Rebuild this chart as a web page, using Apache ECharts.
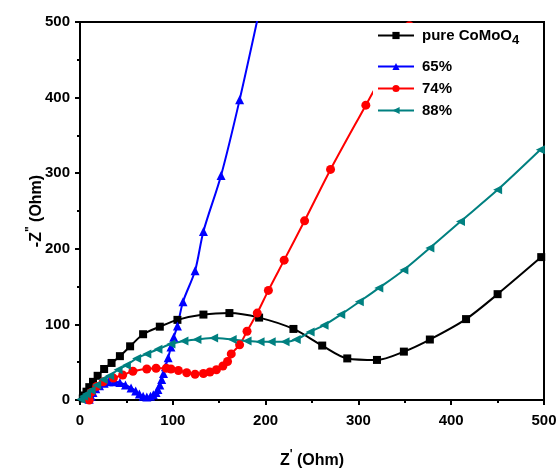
<!DOCTYPE html>
<html>
<head>
<meta charset="utf-8">
<script src="https://cdn.jsdelivr.net/npm/echarts@6/dist/echarts.min.js"></script>
<style>
  html, body { margin: 0; padding: 0; background: #fff; }
  #chart { width: 559px; height: 469px; }
</style>
</head>
<body>
<div id="chart"></div>
<script>
// Nyquist plots: Z' vs -Z'' (Ohm) for the four electrodes
const seriesNames = ['pure CoMoO4', '65%', '74%', '88%'];

const pureCoMoO4 = [
  [3, 2], [5, 6], [7, 11], [10, 17], [14, 24], [19, 32], [26, 41], [34, 49],
  [43, 58], [54, 71], [68, 87], [86, 97], [105, 106], [133, 113], [161, 115],
  [193, 109], [230, 94], [261, 72], [288, 55], [320, 53], [349, 64], [377, 80],
  [416, 107], [450, 140], [497, 189]
];

const pct65 = [
  [10, 1], [12, 5], [14, 10], [17, 15], [21, 19], [26, 22], [31, 24], [37, 24],
  [43, 23], [49, 20], [55, 16], [60, 12], [64, 8], [68, 5], [72, 4], [76, 5],
  [79, 7], [82, 10], [84, 14], [86, 20], [88, 27], [90, 35], [92, 44], [95, 56],
  [98, 70], [101, 83], [105, 98], [111, 130], [124, 171], [133, 223], [152, 297],
  [172, 397], [195, 525]
];

const pct74 = [
  [10, 0], [12, 10], [18, 18], [25, 24], [36, 29], [46, 33], [57, 38], [72, 41],
  [82, 42], [93, 42], [98, 41], [106, 39], [115, 36], [124, 34], [133, 35],
  [140, 37], [147, 40], [154, 45], [159, 51], [163, 61], [172, 73], [180, 91],
  [191, 115], [203, 145], [220, 185], [242, 237], [270, 305], [308, 390], [355, 495]
];

const pct88 = [
  [1, 1], [4, 5], [7, 8], [12, 13], [18, 20], [25, 27], [32, 32], [41, 40],
  [50, 46], [61, 55], [72, 61], [84, 67], [98, 74], [112, 78], [126, 80],
  [144, 82], [164, 80], [180, 78], [194, 77], [206, 77], [221, 77], [233, 80],
  [248, 90], [263, 99], [281, 113], [301, 130], [322, 148], [349, 172],
  [377, 201], [410, 236], [450, 278], [496, 331]
];

const axisMin = 0;
const axisMax = 500;
const axisStep = 100;

const FONT = '"Liberation Sans", Arial, sans-serif';

const chart = echarts.init(document.getElementById('chart'), null, { renderer: 'canvas' });

function lineSeries(name, data, color, symbol, size, rotate) {
  return {
    name: name,
    type: 'line',
    data: data,
    smooth: 0.3,
    clip: true,
    symbol: symbol,
    symbolSize: size,
    symbolRotate: rotate || 0,
    showAllSymbol: true,
    lineStyle: { color: color, width: 2 },
    itemStyle: { color: color, borderWidth: 0 },
    emphasis: { disabled: true },
    z: 2
  };
}

const legendText = {
  fontFamily: FONT,
  fontWeight: 'bold',
  fontSize: 15,
  color: '#000',
  padding: [0, 0, 0, 3],
  rich: {
    a: { fontFamily: FONT, fontWeight: 'bold', fontSize: 15, color: '#000' },
    s: { fontFamily: FONT, fontWeight: 'bold', fontSize: 13, color: '#000', padding: [10, 0, 0, 0] }
  }
};

chart.setOption({
  animation: false,
  backgroundColor: '#fff',
  grid: {
    left: 80, right: 15, top: 22, bottom: 69,
    outerBoundsMode: 'none',
    containLabel: false,
    show: true, borderColor: '#000', borderWidth: 2, backgroundColor: 'transparent'
  },
  legend: [
    {
      data: [seriesNames[0]],
      left: 373, top: 23,
      orient: 'vertical',
      itemWidth: 36, itemHeight: 9,
      backgroundColor: '#fff',
      padding: [5, 20, 16, 4],
      textStyle: legendText,
      formatter: function () { return '{a|pure CoMoO}{s|4}'; }
    },
    {
      data: seriesNames.slice(1),
      left: 373, top: 56,
      orient: 'vertical',
      itemWidth: 36, itemHeight: 9,
      itemGap: 7,
      backgroundColor: '#fff',
      padding: [3, 20, 6, 4],
      textStyle: legendText
    }
  ],
  xAxis: {
    type: 'value',
    min: axisMin, max: axisMax, interval: axisStep,
    name: '{b|Z}{p|\'}{n| (Ohm)}',
    nameLocation: 'middle',
    nameGap: 49,
    nameMoveOverlap: false,
    nameTextStyle: {
      rich: {
        b: { fontFamily: FONT, fontWeight: 'bold', fontSize: 16, color: '#000' },
        p: { fontFamily: FONT, fontWeight: 'bold', fontSize: 12, color: '#000', padding: [0, 0, 12, 0] },
        n: { fontFamily: FONT, fontWeight: 'bold', fontSize: 16, color: '#000' }
      }
    },
    axisLine: { show: true, onZero: false, lineStyle: { color: '#000', width: 2 } },
    axisTick: { show: true, inside: false, length: 5, lineStyle: { color: '#000', width: 2 } },
    minorTick: { show: true, splitNumber: 2, length: 3, lineStyle: { color: '#000', width: 2 } },
    splitLine: { show: false },
    axisLabel: { color: '#000', fontFamily: FONT, fontWeight: 'bold', fontSize: 15, margin: 13 }
  },
  yAxis: {
    type: 'value',
    min: axisMin, max: axisMax, interval: axisStep,
    name: '{n|-Z}{p|"}{n| (Ohm)}',
    nameLocation: 'middle',
    nameRotate: 90,
    nameGap: 31,
    nameMoveOverlap: false,
    nameTextStyle: {
      rich: {
        p: { fontFamily: FONT, fontWeight: 'bold', fontSize: 12, color: '#000', padding: [0, 0, 12, 0] },
        n: { fontFamily: FONT, fontWeight: 'bold', fontSize: 16, color: '#000' }
      }
    },
    axisLine: { show: true, onZero: false, lineStyle: { color: '#000', width: 2 } },
    axisTick: { show: true, inside: false, length: 5, lineStyle: { color: '#000', width: 2 } },
    minorTick: { show: true, splitNumber: 2, length: 3, lineStyle: { color: '#000', width: 2 } },
    splitLine: { show: false },
    axisLabel: { color: '#000', fontFamily: FONT, fontWeight: 'bold', fontSize: 15, margin: 10 }
  },
  series: [
    lineSeries(seriesNames[0], pureCoMoO4, '#000000', 'rect', 8),
    lineSeries(seriesNames[1], pct65, '#0000ff', 'triangle', 9),
    lineSeries(seriesNames[2], pct74, '#ff0000', 'circle', 9),
    lineSeries(seriesNames[3], pct88, '#008080', 'triangle', 9, 90)
  ]
});
</script>
</body>
</html>
